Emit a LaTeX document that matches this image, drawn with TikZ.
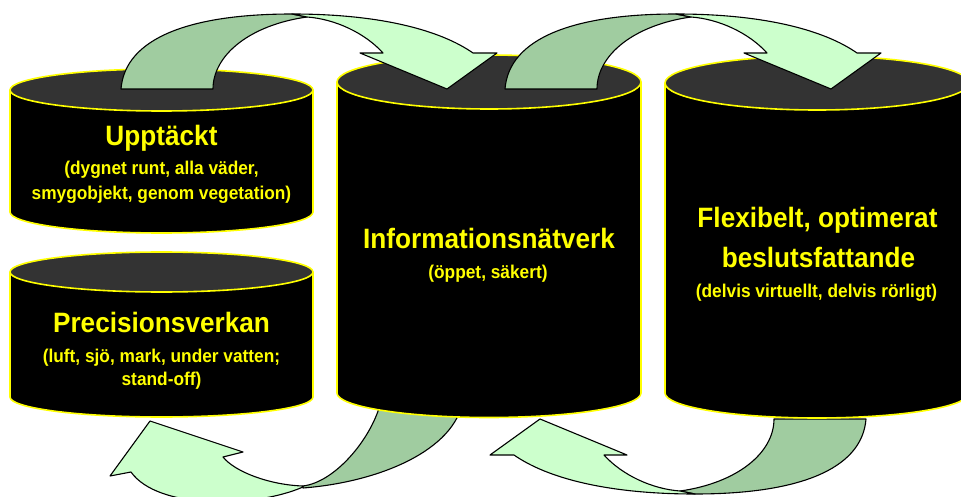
\documentclass[tikz,border=0pt]{standalone}
\usepackage{fontspec}
\setmainfont{Liberation Sans}[FakeStretch=0.935]
\definecolor{ylw}{HTML}{FFFF00}
\definecolor{topgray}{HTML}{333333}
\definecolor{darkgr}{HTML}{A0CCA0}
\definecolor{lightgr}{HTML}{CCFFCC}
\tikzset{
  head/.style={text=ylw, font=\bfseries\fontsize{28}{30}\selectfont, inner sep=0pt, anchor=base},
  sub/.style={text=ylw, font=\bfseries\fontsize{18.5}{20}\selectfont, inner sep=0pt, anchor=base},
  cylline/.style={draw=ylw, line width=1.6pt},
  arrline/.style={draw=black, line width=1.1pt, line join=round},
  backpart/.style={arrline, fill=darkgr},
  frontpart/.style={arrline, fill=lightgr}
}
\newcommand\drawcyl[6]{%
  \fill[black] (#1-#2,#3) -- (#1-#2,#5) arc[start angle=180,end angle=360,x radius=#2pt,y radius=#6pt] -- (#1+#2,#3) -- cycle;
  \draw[cylline] (#1-#2,#3) -- (#1-#2,#5) arc[start angle=180,end angle=360,x radius=#2pt,y radius=#6pt] -- (#1+#2,#3);
  \filldraw[fill=topgray,cylline] (#1,#3) ellipse[x radius=#2pt,y radius=#4pt];
}
\newcommand\toparrow{%
  \path[backpart] (121,89) .. controls (125,38) and (190,14) .. (292,14) -- (307,17)
     .. controls (250,25) and (213,55) .. (213,89) -- cycle;
  \path[frontpart] (292,14) .. controls (380,14) and (440,30) .. (473,53) -- (497,53) -- (447,89)
     -- (360,53) -- (383,53) .. controls (365,33) and (335,19) .. (307,17) -- cycle;
}
\begin{document}
\begin{tikzpicture}[x=1pt,y=-1pt]
\useasboundingbox (0,0) rectangle (961,497);
\clip (0,0) rectangle (961,497);
\fill[white] (0,0) rectangle (961,497);

% bottom arrows (behind the cylinders)
\path[backpart] (303,486) .. controls (335,482) and (370,440) .. (380,405) -- (384,390) -- (466,390)
   -- (463,400) .. controls (455,450) and (380,482) .. (303,488) -- cycle;
\path[frontpart] (303,487) .. controls (255,508) and (158,510) .. (131,472) -- (110,476) -- (150,421)
   -- (243,452) -- (223,457) .. controls (235,472) and (270,485) .. (303,486) -- cycle;
\begin{scope}[rotate around={180:(493.5,254)}]
  \toparrow
\end{scope}

% cylinders
\drawcyl{161.5}{151.5}{90}{21}{212}{21}
\drawcyl{161.5}{151.5}{272}{20}{397}{20}
\drawcyl{489}{152}{82}{27}{393}{24.5}
\drawcyl{817}{152}{83}{27}{393}{25}

% top arrows (in front)
\toparrow
\begin{scope}[shift={(384,0)}]
  \toparrow
\end{scope}

% texts
\node[head] (upp) at (161.5,146) {Upptäckt};
\node[sub] (upp1) at (161.5,175) {(dygnet runt, alla väder,};
\node[sub] (upp2) at (161.5,200) {smygobjekt, genom vegetation)};

\node[head] (pre) at (161.5,332) {Precisionsverkan};
\node[sub] (pre1) at (161.5,362) {(luft, sjö, mark, under vatten;};
\node[sub] (pre2) at (161.5,385) {stand-off)};

\node[head] (inf) at (489,248) {Informationsnätverk};
\node[sub] (inf1) at (488,278) {(öppet, säkert)};

\node[head] (flx) at (817.5,228) {Flexibelt, optimerat};
\node[head] (flx2) at (818.5,267) {beslutsfattande};
\node[sub] (flx3) at (816.5,297) {(delvis virtuellt, delvis rörligt)};
\end{tikzpicture}
\end{document}
